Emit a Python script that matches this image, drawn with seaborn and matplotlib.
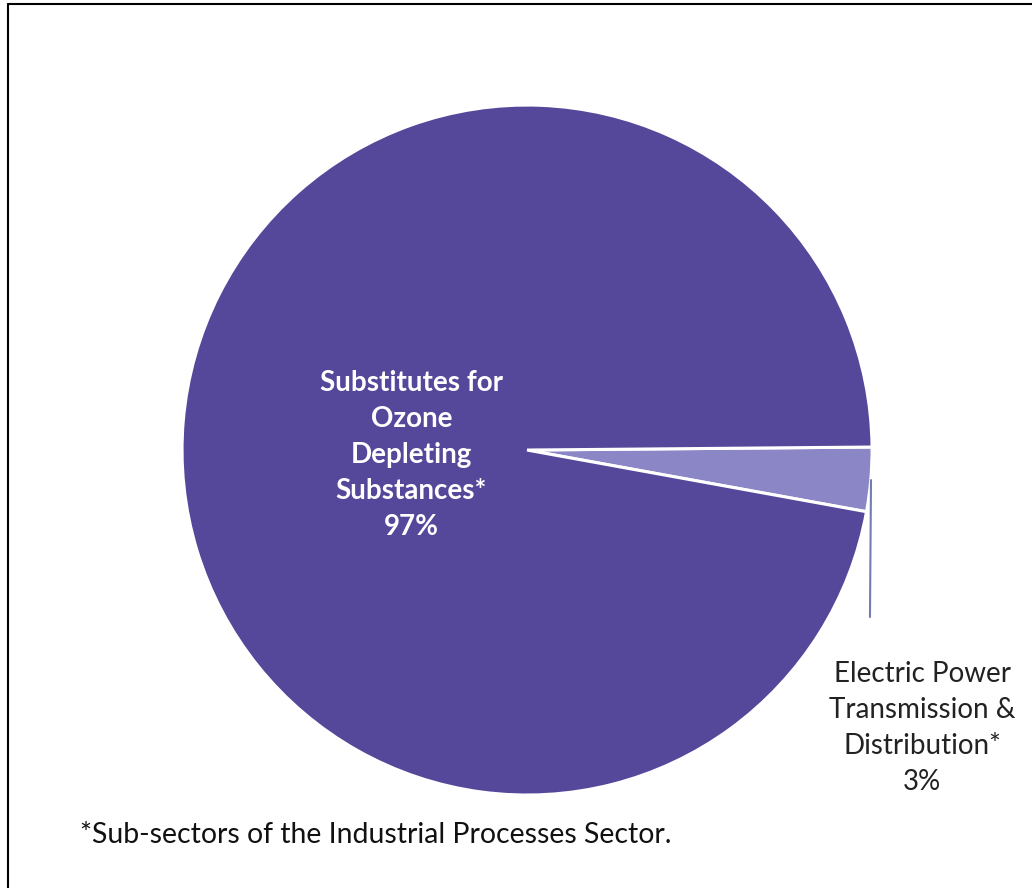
import matplotlib
matplotlib.use('Agg')
import matplotlib.pyplot as plt
import seaborn as sns
from matplotlib.lines import Line2D

# Data
categories = ['Electric Power\nTransmission &\nDistribution*', 'Substitutes for\nOzone\nDepleting\nSubstances*']
shares = [3, 97]
slice_colors = ['#8b87c6', '#55479a']
footnote = '*Sub-sectors of the Industrial Processes Sector.'

sns.set_theme(style='white')
plt.rcParams['font.family'] = ['Lato', 'DejaVu Sans']

fig = plt.figure(figsize=(10.32, 8.88), dpi=100)
fig.patch.set_facecolor('white')

# pie axes: centre ~(527, 450) px, radius ~345 px
ax = fig.add_axes([0.1764, 0.1047, 0.6686, 0.777])
wedges, _ = ax.pie(shares, colors=slice_colors, startangle=-10.3, counterclock=True,
                   wedgeprops=dict(edgecolor='white', linewidth=2.2))
ax.set_xlim(-1, 1)
ax.set_ylim(-1, 1)
ax.set_aspect('auto')
ax.axis('off')

# labels
ax.text(-0.335, -0.015, f'{categories[1]}\n{shares[1]}%', ha='center', va='center',
        color='white', fontsize=20, fontweight='bold', linespacing=1.47)
ax.text(1.145, -0.806, f'{categories[0]}\n{shares[0]}%', ha='center', va='center',
        color='#222222', fontsize=20, linespacing=1.47, clip_on=False)

# leader line
ax.plot([0.997, 0.994], [-0.087, -0.484], color='#6f7db0', lw=1.5, clip_on=False)

# footnote
fig.text(0.0775, 0.0597, footnote, ha='left', va='center', fontsize=20.4, color='#111111')

# frame lines (top and left)
fig.add_artist(Line2D([0.0078, 1.0], [0.9955, 0.9955], color='black', lw=1.5))
fig.add_artist(Line2D([0.0078, 0.0078], [0.0, 0.9955], color='black', lw=1.5))

fig.savefig('out.png', dpi=100, facecolor='white')
